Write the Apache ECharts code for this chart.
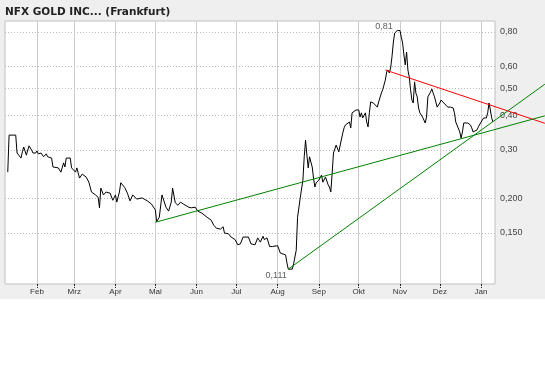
<!DOCTYPE html>
<html><head><meta charset="utf-8">
<script src="https://cdn.jsdelivr.net/npm/echarts@6/dist/echarts.min.js"></script>
<style>
html,body{margin:0;padding:0;background:#fff}
#c{width:545px;height:384px;background:linear-gradient(to bottom,#efefef 0,#efefef 299px,#fff 299px)}
</style>
</head><body><div id="c"></div>
<script>
const chartTitle = 'NFX GOLD INC... (Frankfurt)';
const monthLabels = ['Feb','Mrz','Apr','Mai','Jun','Jul','Aug','Sep','Okt','Nov','Dez','Jan'];
const monthStarts = ['2010-02-01','2010-03-01','2010-04-01','2010-05-01','2010-06-01','2010-07-01','2010-08-01','2010-09-01','2010-10-01','2010-11-01','2010-12-01','2011-01-01'];
const priceTicks = [0.15,0.2,0.3,0.4,0.5,0.6,0.8];
const priceTickLabels = ['0,150','0,200','0,30','0,40','0,50','0,60','0,80'];

const dates = [
'2010-01-10','2010-01-11','2010-01-16','2010-01-17','2010-01-20','2010-01-21','2010-01-22','2010-01-24','2010-01-26','2010-01-28',
'2010-01-29','2010-01-31','2010-02-01','2010-02-02','2010-02-04','2010-02-06','2010-02-08','2010-02-09','2010-02-12','2010-02-13',
'2010-02-17','2010-02-19','2010-02-21','2010-02-22','2010-02-23','2010-02-26','2010-02-27','2010-02-28','2010-03-02','2010-03-03',
'2010-03-05','2010-03-07','2010-03-10','2010-03-12','2010-03-14','2010-03-17','2010-03-19','2010-03-20','2010-03-21','2010-03-23',
'2010-03-25','2010-03-28','2010-03-30','2010-04-01','2010-04-02','2010-04-04','2010-04-05','2010-04-08','2010-04-10','2010-04-12',
'2010-04-14','2010-04-17','2010-04-21','2010-04-25','2010-04-28','2010-05-01','2010-05-02','2010-05-04','2010-05-06','2010-05-07',
'2010-05-09','2010-05-11','2010-05-13','2010-05-14','2010-05-16','2010-05-18','2010-05-20','2010-05-22','2010-05-23','2010-05-26',
'2010-05-28','2010-05-31','2010-06-02','2010-06-05','2010-06-09','2010-06-12','2010-06-14','2010-06-16','2010-06-19','2010-06-21',
'2010-06-22','2010-06-25','2010-06-27','2010-06-30','2010-07-02','2010-07-04','2010-07-06','2010-07-10','2010-07-12','2010-07-15',
'2010-07-17','2010-07-19','2010-07-21','2010-07-22','2010-07-24','2010-07-26','2010-07-28','2010-07-29','2010-08-01','2010-08-02',
'2010-08-03','2010-08-07','2010-08-08','2010-08-09','2010-08-12','2010-08-13','2010-08-15','2010-08-16','2010-08-18','2010-08-20',
'2010-08-21','2010-08-22','2010-08-23','2010-08-24','2010-08-25','2010-08-26','2010-08-27','2010-08-28','2010-08-29','2010-08-30',
'2010-09-01','2010-09-02','2010-09-03','2010-09-04','2010-09-06','2010-09-07','2010-09-08','2010-09-09','2010-09-10','2010-09-11',
'2010-09-12','2010-09-13','2010-09-14','2010-09-15','2010-09-16','2010-09-17','2010-09-19','2010-09-20','2010-09-21','2010-09-22',
'2010-09-24','2010-09-25','2010-09-26','2010-09-27','2010-09-29','2010-10-01','2010-10-02','2010-10-03','2010-10-04','2010-10-06',
'2010-10-07','2010-10-08','2010-10-09','2010-10-10','2010-10-12','2010-10-13','2010-10-15','2010-10-16','2010-10-17','2010-10-18',
'2010-10-19','2010-10-21','2010-10-22','2010-10-23','2010-10-24','2010-10-25','2010-10-26','2010-10-27','2010-10-28','2010-10-30',
'2010-10-31','2010-11-01','2010-11-02','2010-11-03','2010-11-04','2010-11-05','2010-11-06','2010-11-07','2010-11-08','2010-11-09',
'2010-11-10','2010-11-11','2010-11-12','2010-11-13','2010-11-14','2010-11-15','2010-11-16','2010-11-18','2010-11-20','2010-11-21',
'2010-11-22','2010-11-24','2010-11-25','2010-11-26','2010-11-27','2010-11-29','2010-11-30','2010-12-01','2010-12-02','2010-12-04',
'2010-12-05','2010-12-07','2010-12-09','2010-12-11','2010-12-12','2010-12-13','2010-12-14','2010-12-16','2010-12-17','2010-12-18',
'2010-12-19','2010-12-20','2010-12-22','2010-12-24','2010-12-25','2010-12-26','2010-12-27','2010-12-29','2010-12-30','2010-12-31',
'2011-01-01','2011-01-02','2011-01-03','2011-01-05','2011-01-06','2011-01-07','2011-01-08','2011-01-09','2011-01-10'
];
const prices = [
0.249,0.339,0.339,0.292,0.280,0.295,0.307,0.287,0.310,0.299,
0.292,0.292,0.297,0.290,0.292,0.283,0.290,0.283,0.280,0.260,
0.258,0.249,0.269,0.260,0.280,0.280,0.258,0.260,0.249,0.258,
0.237,0.245,0.239,0.229,0.211,0.206,0.202,0.185,0.218,0.206,
0.211,0.209,0.197,0.206,0.194,0.211,0.228,0.219,0.209,0.196,
0.206,0.199,0.201,0.196,0.191,0.182,0.165,0.171,0.206,0.209,
0.186,0.180,0.194,0.218,0.193,0.189,0.194,0.191,0.193,0.186,
0.185,0.186,0.180,0.177,0.171,0.167,0.160,0.156,0.155,0.158,
0.150,0.149,0.145,0.142,0.136,0.137,0.145,0.145,0.137,0.136,
0.144,0.139,0.146,0.142,0.144,0.134,0.134,0.132,0.135,0.136,
0.127,0.125,0.117,0.111,0.111,0.116,0.130,0.171,0.201,0.233,
0.283,0.325,0.287,0.258,0.283,0.280,0.260,0.237,0.220,0.228,
0.233,0.233,0.243,0.229,0.239,0.237,0.224,0.220,0.211,0.247,
0.292,0.295,0.312,0.307,0.295,0.299,0.345,0.360,0.369,0.375,
0.378,0.360,0.408,0.411,0.418,0.418,0.394,0.408,0.391,0.408,
0.378,0.363,0.408,0.447,0.443,0.436,0.428,0.447,0.454,0.481,
0.494,0.536,0.573,0.583,0.569,0.593,0.650,0.730,0.793,0.810,
0.800,0.810,0.767,0.730,0.661,0.608,0.677,0.583,0.550,0.494,
0.454,0.443,0.528,0.481,0.466,0.425,0.408,0.394,0.375,0.394,
0.466,0.485,0.498,0.481,0.466,0.428,0.425,0.443,0.454,0.443,
0.436,0.428,0.428,0.425,0.408,0.378,0.375,0.348,0.331,0.348,
0.375,0.378,0.375,0.369,0.360,0.348,0.345,0.354,0.363,0.369,
0.378,0.375,0.391,0.391,0.408,0.443,0.418,0.391,0.378
];

const highDate = '2010-10-30', highValue = 0.81, highLabel = '0,81';
const lowDate = '2010-08-09', lowValue = 0.111, lowLabel = '0,111';

const resistDates = ['2010-10-21','2011-02-18'];
const resistValues = [0.583, 0.374];
const steepSupportDates = ['2010-08-09','2011-02-18'];
const steepSupportValues = [0.111, 0.518];
const flatSupportDates = ['2010-05-01','2011-02-18'];
const flatSupportValues = [0.164, 0.398];

function ts(s){ const p = s.split('-').map(Number); return Date.UTC(p[0], p[1]-1, p[2]); }
function pairs(ds, vs){ return ds.map((d,i)=>[ts(d), Math.log10(vs[i])]); }

const W = 545, gridL = 5, gridR = 50;
const xMin = Date.UTC(2010,0,7,22,19);
const xMax = Date.UTC(2011,0,11,12);
// wider x extent for the overlay grid that reaches the right edge of the picture
const plotW = W - gridL - gridR;
const xMaxWide = xMin + (xMax - xMin) * (W - gridL) / plotW;
const yMin = -1.00836, yMax = -0.0571;

const monthTs = monthStarts.map(ts);
const tickLogs = priceTicks.map(v=>Math.log10(v));
function nearestIdx(arr, v){ let b=0, bd=Infinity; arr.forEach((a,i)=>{const d=Math.abs(a-v); if(d<bd){bd=d;b=i;}}); return b; }

const lbl = {fontFamily:'Liberation Sans', fontSize:9, color:'#333'};

const chart = echarts.init(document.getElementById('c'), null, {renderer:'canvas'});
chart.setOption({
  animation:false,
  title:{text:chartTitle, left:5, top:7, padding:0,
    textStyle:{fontFamily:'DejaVu Sans', fontSize:10.5, fontWeight:'bold', color:'#222'}},
  grid:[
    {left:gridL, right:gridR, top:21, bottom:100, show:true, backgroundColor:'#fff', borderColor:'#c0c0c0', borderWidth:1, outerBoundsMode:'none', containLabel:false},
    {left:gridL, right:0, top:21, bottom:100, show:false, outerBoundsMode:'none', containLabel:false}
  ],
  xAxis:[
    {type:'value', gridIndex:0, min:xMin, max:xMax,
      axisLine:{show:false},
      axisTick:{show:true, customValues:monthTs, length:4, inside:false, lineStyle:{color:'#222', type:[2,1]}},
      axisLabel:{customValues:monthTs, margin:4, fontFamily:'Liberation Sans', fontSize:8, color:'#333',
        formatter:(v)=>monthLabels[nearestIdx(monthTs,v)]},
      splitLine:{show:true, lineStyle:{color:'#cccccc', width:1, type:'solid'}}
    },
    {type:'value', gridIndex:1, min:xMin, max:xMaxWide, show:false}
  ],
  yAxis:[
    {type:'value', gridIndex:0, position:'right', min:yMin, max:yMax,
      axisLine:{show:false},
      axisTick:{show:false, customValues:tickLogs},
      axisLabel:{customValues:tickLogs, margin:5, fontFamily:'Liberation Sans', fontSize:9, color:'#444',
        formatter:(v)=>priceTickLabels[nearestIdx(tickLogs,v)]},
      splitLine:{show:true, lineStyle:{color:'#b8b8b8', width:1, type:[1,2]}}
    },
    {type:'value', gridIndex:1, min:yMin, max:yMax, show:false}
  ],
  series:[
    {type:'line', xAxisIndex:0, yAxisIndex:0, data:pairs(dates, prices), showSymbol:false, symbol:'none',
      lineStyle:{color:'#000', width:1}, z:3},
    {type:'line', xAxisIndex:1, yAxisIndex:1, data:pairs(resistDates, resistValues), showSymbol:false, symbol:'none',
      lineStyle:{color:'#ff0000', width:1}, z:4},
    {type:'line', xAxisIndex:1, yAxisIndex:1, data:pairs(steepSupportDates, steepSupportValues), showSymbol:false, symbol:'none',
      lineStyle:{color:'#008000', width:1}, z:4},
    {type:'line', xAxisIndex:1, yAxisIndex:1, data:pairs(flatSupportDates, flatSupportValues), showSymbol:false, symbol:'none',
      lineStyle:{color:'#008000', width:1}, z:4},
    {type:'scatter', xAxisIndex:0, yAxisIndex:0, symbolSize:1, itemStyle:{color:'rgba(0,0,0,0)'}, z:5,
      data:[
        {value:[ts(highDate), Math.log10(highValue)], label:Object.assign({show:true, formatter:highLabel, position:'left', distance:4, offset:[0,-4]}, lbl)},
        {value:[ts(lowDate), Math.log10(lowValue)], label:Object.assign({show:true, formatter:lowLabel, position:'left', distance:1, offset:[0,6.5]}, lbl)}
      ]
    }
  ]
});
</script>
</body></html>
